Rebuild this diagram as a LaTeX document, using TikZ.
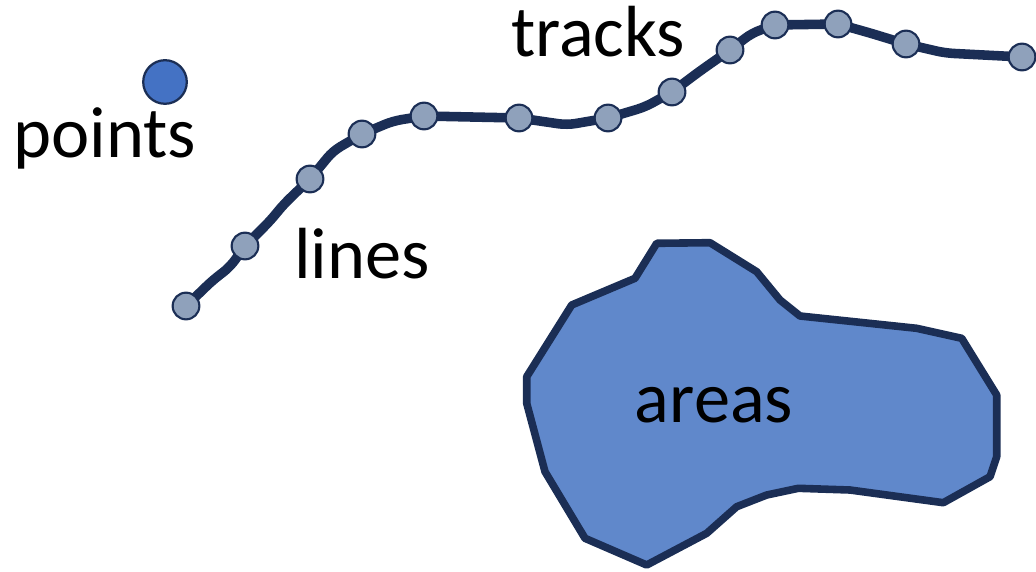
\documentclass[tikz,border=0pt]{standalone}
\usepackage{fontspec}
\setmainfont{Carlito}
\usepackage{xcolor}
\usetikzlibrary{backgrounds}

\definecolor{navy}{HTML}{1B2E55}
\definecolor{ptblue}{HTML}{4472C4}
\definecolor{dotgray}{HTML}{8FA1BB}
\definecolor{areablue}{HTML}{6088CB}

\begin{document}
\begin{tikzpicture}[
  x=0.025cm, y=-0.025cm,
  lbl/.style={anchor=base,inner sep=0pt,font=\fontsize{51.5}{60}\selectfont},
  pt/.style={circle,draw=navy,line width=1.6pt,fill=ptblue,minimum size=31pt,inner sep=0pt},
  dot/.style={circle,draw=navy,line width=1.5pt,fill=dotgray,minimum size=19pt,inner sep=0pt},
  track/.style={draw=navy,line width=6.8pt,line join=round,line cap=round,rounded corners=6pt},
  region/.style={draw=navy,fill=areablue,line width=5.4pt,line join=round}
]
  \useasboundingbox (0,0) rectangle (1036,571);

  % point
  \node[pt] (point) at (165,82) {};
  \node[lbl] (pointslbl) at (105,157) {points};

  % line / track
  \node[dot] (t1) at (186,306) {};
  \node[dot] (t2) at (245,246) {};
  \node[dot] (t3) at (310,179) {};
  \node[dot] (t4) at (362,134) {};
  \node[dot] (t5) at (424,116) {};
  \node[dot] (t6) at (519,118) {};
  \node[dot] (t7) at (608,118) {};
  \node[dot] (t8) at (672,92) {};
  \node[dot] (t9) at (730,50) {};
  \node[dot] (t10) at (775,25) {};
  \node[dot] (t11) at (838,24) {};
  \node[dot] (t12) at (906,44) {};
  \node[dot] (t13) at (1022,57) {};
  \begin{scope}[on background layer]
    \draw[track] (t1.center) -- (213,280) -- (230,267) -- (t2.center)
      -- (270,221) -- (284,204) -- (t3.center) -- (333,151) -- (t4.center)
      -- (393,121) -- (t5.center) -- (t6.center) -- (567,125) -- (t7.center)
      -- (645,107) -- (t8.center) -- (700,71) -- (t9.center) -- (752,33)
      -- (t10.center) -- (t11.center) -- (870,33) -- (t12.center)
      -- (945,53) -- (t13.center);
  \end{scope}
  \node[lbl] (lineslbl) at (362,278) {lines};
  \node[lbl] (trackslbl) at (598,57) {tracks};

  % area
  \draw[region] (656.7,243.3) -- (710,242.7) -- (756.7,271.7) -- (780,300)
    -- (800,316) -- (916.7,328.3) -- (961.7,338.3) -- (996.7,395)
    -- (996.7,456.7) -- (990,476.7) -- (943.3,502.7) -- (850,490)
    -- (798.3,488.3) -- (766.7,495) -- (736.7,506.7) -- (706.7,533.3)
    -- (646.7,565) -- (585,538.3) -- (545,471.7) -- (526.7,403.3)
    -- (526.7,376.7) -- (571.7,305) -- (635,278.3) -- cycle;
  \node[lbl] (areaslbl) at (714,422) {areas};
\end{tikzpicture}
\end{document}
